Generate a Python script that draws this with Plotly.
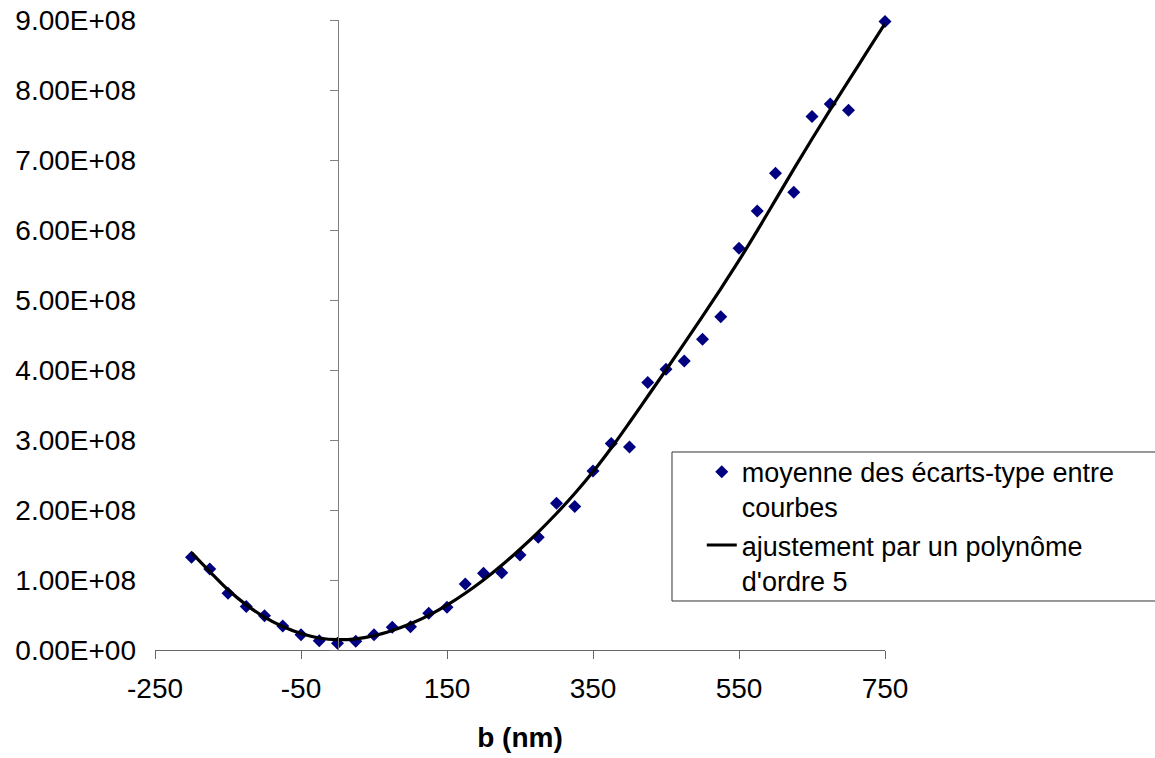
import plotly.graph_objects as go

# measured points: b (nm) and mean standard deviation between curves
b_nm = [-200, -175, -150, -125, -100, -75, -50, -25, 0, 25, 50, 75, 100, 125, 150,
        175, 200, 225, 250, 275, 300, 325, 350, 375, 400, 425, 450, 475, 500, 525,
        550, 575, 600, 625, 650, 675, 700, 750]
moyenne = [1.324e8, 1.157e8, 0.81e8, 0.62e8, 0.49e8, 0.343e8, 0.219e8, 0.133e8, 0.095e8,
           0.124e8, 0.219e8, 0.324e8, 0.333e8, 0.524e8, 0.61e8, 0.943e8, 1.096e8, 1.105e8,
           1.357e8, 1.61e8, 2.096e8, 2.05e8, 2.557e8, 2.95e8, 2.9e8, 3.82e8, 4.01e8,
           4.13e8, 4.44e8, 4.76e8, 5.74e8, 6.27e8, 6.81e8, 6.54e8, 7.62e8, 7.8e8,
           7.71e8, 8.98e8]

# fitted polynomial curve
fit_b = [-200, -175, -150, -125, -100, -75, -50, -25, 0, 25, 50, 75, 100, 125, 150,
         175, 200, 225, 250, 275, 300, 325, 350, 375, 400, 425, 450, 475, 500, 525,
         550, 575, 600, 625, 650, 675, 700, 725, 750]
fit_val = [1.39e8, 1.12e8, 0.86e8, 0.645e8, 0.47e8, 0.335e8, 0.235e8, 0.172e8, 0.148e8,
           0.16e8, 0.205e8, 0.28e8, 0.375e8, 0.495e8, 0.64e8, 0.81e8, 1.0e8, 1.21e8,
           1.44e8, 1.685e8, 1.95e8, 2.235e8, 2.545e8, 2.885e8, 3.25e8, 3.625e8, 4.0e8,
           4.38e8, 4.765e8, 5.16e8, 5.565e8, 5.99e8, 6.43e8, 6.87e8, 7.3e8, 7.72e8,
           8.13e8, 8.54e8, 8.95e8]

x_ticks = [-250, -50, 150, 350, 550, 750]
x_ticktext = ["-250", "-50", "150", "350", "550", "750"]
y_ticks = [0, 1e8, 2e8, 3e8, 4e8, 5e8, 6e8, 7e8, 8e8, 9e8]
y_ticktext = ["0.00E+00", "1.00E+08", "2.00E+08", "3.00E+08", "4.00E+08",
              "5.00E+08", "6.00E+08", "7.00E+08", "8.00E+08", "9.00E+08"]

FONT = "Liberation Sans, Arial, sans-serif"

fig = go.Figure()
fig.add_trace(go.Scatter(
    x=b_nm, y=moyenne, mode="markers", cliponaxis=False,
    name="moyenne des écarts-type entre<br>courbes",
    marker=dict(symbol="diamond", size=10, color="#000080"),
))
fig.add_trace(go.Scatter(
    x=fit_b, y=fit_val, mode="lines", line_shape="spline", yaxis="y2",
    cliponaxis=False,
    name="ajustement par un polynôme<br>d'ordre 5",
    line=dict(color="black", width=3.2),
))

fig.update_layout(
    width=1155, height=758,
    margin=dict(l=155, r=270, t=20, b=108),
    paper_bgcolor="white", plot_bgcolor="white",
    font=dict(family=FONT, color="black"),
    showlegend=True,
    legend=dict(
        x=0.749, y=0.321, xanchor="left", yanchor="top", valign="top",
        font=dict(size=27, family=FONT, color="black"),
        bgcolor="rgba(0,0,0,0)", borderwidth=0, tracegroupgap=6,
    ),
    xaxis=dict(
        range=[-250, 750], tickvals=x_ticks, ticktext=x_ticktext,
        ticks="outside", ticklen=8,
        tickcolor="#666666", showline=True, linecolor="#666666", linewidth=1,
        showgrid=False, zeroline=False, automargin=False,
        tickfont=dict(size=28, family=FONT, color="black"),
        ticklabelstandoff=5, ticklabeloverflow="allow",
        title=dict(text="<b>b (nm)</b>", font=dict(size=28, family=FONT, color="black"),
                   standoff=24),
    ),
    yaxis=dict(
        range=[0, 9e8], tickvals=y_ticks, ticktext=y_ticktext,
        ticks="", showline=False, showgrid=False, zeroline=False, automargin=False,
        tickfont=dict(size=28, family=FONT, color="black"),
        ticklabelstandoff=18, ticklabeloverflow="allow",
    ),
    yaxis2=dict(
        range=[0, 9e8], tickvals=y_ticks, overlaying="y", anchor="free",
        position=0.25, side="left", showticklabels=False, automargin=False,
        ticks="outside", ticklen=8, tickcolor="#808080",
        showline=True, linecolor="#808080", linewidth=1,
        showgrid=False, zeroline=False,
    ),
    shapes=[dict(type="rect", xref="paper", yref="paper",
                 x0=0.7082, x1=1.45, y0=0.0778, y1=0.3143,
                 line=dict(color="#333333", width=1), fillcolor="rgba(0,0,0,0)",
                 layer="below")],
)

fig.write_html("out.html",
               config={"displayModeBar": False},
               post_script="document.body.style.margin='0';document.body.style.overflow='hidden';")
